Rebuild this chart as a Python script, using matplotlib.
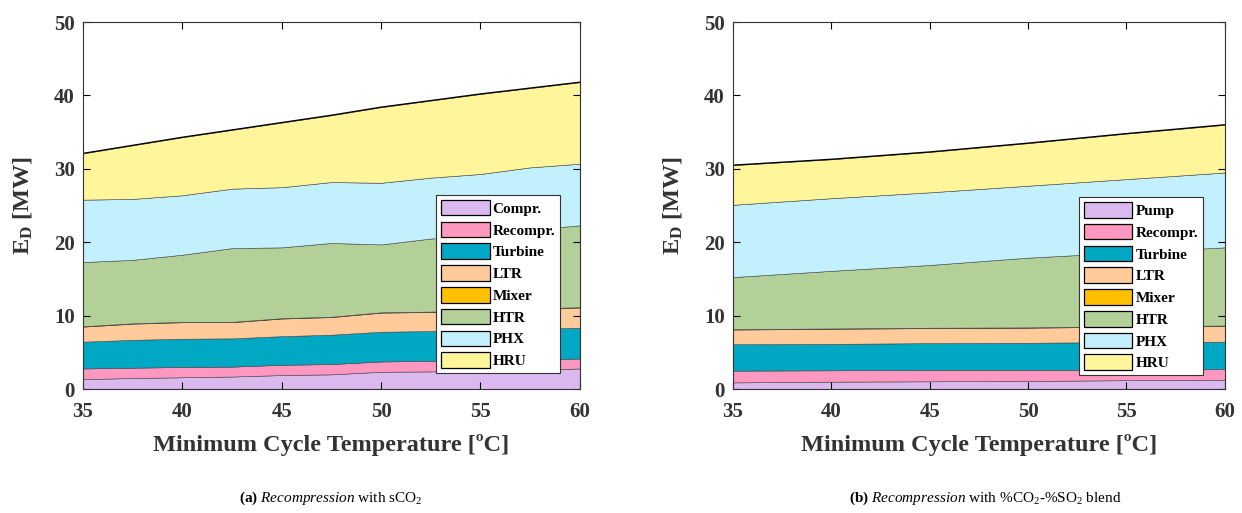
import matplotlib
matplotlib.use("Agg")
import matplotlib.pyplot as plt
import numpy as np

plt.rcParams['font.family'] = ['Liberation Serif', 'DejaVu Serif']
plt.rcParams['mathtext.fontset'] = 'custom'
plt.rcParams['mathtext.rm'] = 'Liberation Serif'
plt.rcParams['mathtext.it'] = 'Liberation Serif:italic'
plt.rcParams['mathtext.bf'] = 'Liberation Serif:bold'

# (a) sCO2 - cumulative tops
temp_a = [35, 37.5, 40, 42.5, 45, 47.5, 50, 52.5, 55, 57.5, 60]
compr_top_a = [1.35, 1.5, 1.6, 1.7, 1.9, 2.0, 2.35, 2.4, 2.5, 2.6, 2.8]
recompr_top_a = [2.8, 2.9, 3.0, 3.05, 3.3, 3.4, 3.75, 3.85, 3.9, 4.0, 4.15]
turbine_top_a = [6.45, 6.7, 6.85, 6.9, 7.2, 7.4, 7.8, 7.9, 8.0, 8.2, 8.35]
ltr_top_a = [8.5, 8.9, 9.1, 9.1, 9.6, 9.8, 10.4, 10.5, 10.7, 10.9, 11.1]
mixer_top_a = [8.55, 8.95, 9.15, 9.15, 9.65, 9.85, 10.45, 10.55, 10.75, 10.95, 11.15]
htr_top_a = [17.3, 17.6, 18.3, 19.2, 19.3, 19.9, 19.7, 20.5, 21.0, 21.7, 22.3]
phx_top_a = [25.8, 25.9, 26.4, 27.3, 27.5, 28.2, 28.1, 28.8, 29.3, 30.2, 30.7]
hru_top_a = [32.1, 33.2, 34.3, 35.3, 36.3, 37.3, 38.4, 39.3, 40.2, 41.0, 41.8]

# (b) CO2-SO2 blend
temp_b = [35, 40, 45, 50, 55, 60]
pump_top_b = [0.9, 1.0, 1.05, 1.1, 1.2, 1.25]
recompr_top_b = [2.5, 2.55, 2.6, 2.6, 2.65, 2.7]
turbine_top_b = [6.1, 6.15, 6.25, 6.3, 6.4, 6.45]
ltr_top_b = [8.1, 8.2, 8.3, 8.35, 8.5, 8.6]
mixer_top_b = [8.15, 8.25, 8.35, 8.4, 8.55, 8.65]
htr_top_b = [15.25, 16.1, 16.9, 17.9, 18.6, 19.3]
phx_top_b = [25.1, 26.0, 26.8, 27.7, 28.6, 29.5]
hru_top_b = [30.5, 31.3, 32.3, 33.5, 34.8, 36.0]

labels_a = ['Compr.', 'Recompr.', 'Turbine', 'LTR', 'Mixer', 'HTR', 'PHX', 'HRU']
labels_b = ['Pump', 'Recompr.', 'Turbine', 'LTR', 'Mixer', 'HTR', 'PHX', 'HRU']
colors = ['#d9b9ee', '#ff98c0', '#00a8c4', '#ffcb9a', '#ffc000', '#b3d098', '#c2f0fd', '#fff59b']


def layers(tops):
    tops = np.array(tops, dtype=float)
    return np.diff(np.vstack([np.zeros(tops.shape[1]), tops]), axis=0)


fig = plt.figure(figsize=(12.42, 5.13), dpi=100)
ax1 = fig.add_axes([0.0668, 0.2417, 0.400, 0.7153])
ax2 = fig.add_axes([0.5902, 0.2417, 0.3960, 0.7153])

panels = [
    (ax1, temp_a, [compr_top_a, recompr_top_a, turbine_top_a, ltr_top_a, mixer_top_a,
                   htr_top_a, phx_top_a, hru_top_a], labels_a, 0.96, 0.044),
    (ax2, temp_b, [pump_top_b, recompr_top_b, turbine_top_b, ltr_top_b, mixer_top_b,
                   htr_top_b, phx_top_b, hru_top_b], labels_b, 0.955, 0.038),
]

for ax, t, tops, labels, lx, ly in panels:
    ax.stackplot(t, layers(tops), colors=colors, labels=labels,
                 edgecolor='#444444', linewidth=0.4)
    ax.plot(t, tops[-1], color='black', linewidth=1.0)
    ax.set_xlim(35, 60)
    ax.set_ylim(0, 50)
    ax.set_xticks([35, 40, 45, 50, 55, 60])
    ax.set_yticks([0, 10, 20, 30, 40, 50])
    ax.tick_params(direction='in', top=True, right=True, labelsize=15, length=5)
    ax.tick_params(axis='x', pad=9)
    ax.tick_params(axis='y', pad=6)
    for lab in ax.get_xticklabels() + ax.get_yticklabels():
        lab.set_fontweight('bold')
        lab.set_color('#333333')
    for sp in ax.spines.values():
        sp.set_color('#333333')
    ax.set_xlabel('Minimum Cycle Temperature [ºC]', fontsize=17.5, fontweight='bold',
                  color='#333333', labelpad=9)
    ax.set_ylabel(r'E$_{\mathbf{D}}$ [MW]', fontsize=17.5, fontweight='bold',
                  color='#333333', labelpad=14)
    leg = ax.legend(loc='lower right', bbox_to_anchor=(lx, ly), fancybox=False,
                    framealpha=1, edgecolor='#333333', handlelength=3.2,
                    handleheight=1.2, labelspacing=0.38, handletextpad=0.2,
                    borderpad=0.3, borderaxespad=0,
                    prop={'weight': 'bold', 'size': 11})
    leg.get_frame().set_linewidth(0.8)
    for h in leg.legend_handles:
        h.set_edgecolor('black')
        h.set_linewidth(0.9)

fig.text(0.266, 0.022, r'$\mathbf{(a)}$ $\mathit{Recompression}$ with sCO$_2$',
         ha='center', fontsize=11)
fig.text(0.793, 0.022, r'$\mathbf{(b)}$ $\mathit{Recompression}$ with %CO$_2$-%SO$_2$ blend',
         ha='center', fontsize=11)

fig.savefig('out.png', dpi=100)
